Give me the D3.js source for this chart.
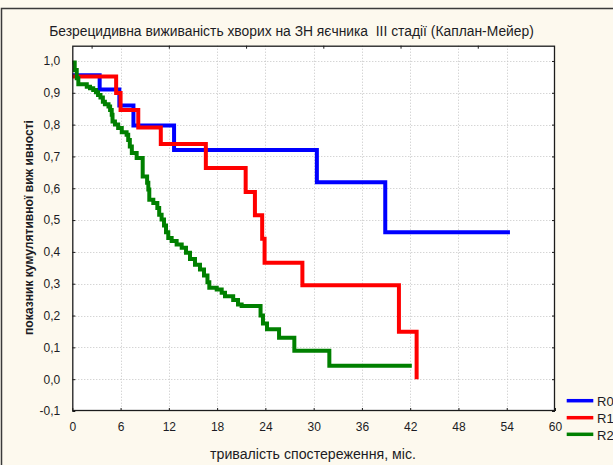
<!DOCTYPE html>
<html>
<head>
<meta charset="utf-8">
<script src="https://cdn.jsdelivr.net/npm/d3@7"></script>
<style>
  html, body { margin: 0; padding: 0; background: #fdf9ee; }
  svg { display: block; }
  text { font-family: "Liberation Sans", Arial, sans-serif; fill: #1c1c24; white-space: pre; }
</style>
</head>
<body>
<svg id="chart" width="613" height="465"></svg>
<script>
// Kaplan–Meier step data: months and cumulative survival after each event
const r0Times = [0, 3.4, 5.85, 7.6, 12.65, 30.4, 38.9, 54.4];
const r0Surv  = [0.955, 0.91, 0.86, 0.797, 0.72, 0.619, 0.462, 0.462];

const r1Times = [0, 5.45, 6.0, 8.2, 11.0, 16.6, 21.55, 22.7, 23.6, 23.9, 28.6, 40.6, 42.8];
const r1Surv  = [0.951, 0.899, 0.846, 0.791, 0.739, 0.664, 0.588, 0.515, 0.441, 0.366, 0.295, 0.149, 0.0];

const r2Times = [0, 0.3, 0.55, 0.75, 1.8, 2.2, 2.6, 2.95, 3.2, 3.5, 3.8, 4.05, 4.5, 4.7, 4.9, 5.0,
                 5.3, 5.7, 6.15, 6.75, 6.95, 7.15, 7.4, 8.0, 8.75, 9.3, 9.45, 9.57, 10.07, 10.57,
                 10.8, 11.1, 11.4, 11.65, 11.93, 12.35, 12.97, 13.6, 14.13, 14.63, 15.25, 15.87,
                 16.37, 16.8, 17.03, 17.95, 18.57, 18.98, 20.0, 20.6, 21.05, 23.4, 23.7, 24.2,
                 25.7, 27.6, 31.95, 42.2];
const r2Surv  = [0.995, 0.972, 0.946, 0.927, 0.919, 0.914, 0.909, 0.902, 0.893, 0.885, 0.872, 0.864,
                 0.857, 0.846, 0.831, 0.81, 0.80, 0.789, 0.776, 0.768, 0.752, 0.731, 0.711, 0.695,
                 0.637, 0.617, 0.596, 0.564, 0.554, 0.538, 0.517, 0.502, 0.483, 0.462, 0.444,
                 0.434, 0.423, 0.413, 0.397, 0.378, 0.36, 0.345, 0.326, 0.305, 0.287, 0.282,
                 0.272, 0.261, 0.249, 0.235, 0.23, 0.2, 0.175, 0.157, 0.13, 0.089, 0.042, 0.042];

const seriesNames  = ["R0", "R1", "R2"];
const seriesColors = ["#0000ff", "#ff0000", "#008000"];

const xTicks = [0, 6, 12, 18, 24, 30, 36, 42, 48, 54, 60];
const yTicks = [-0.1, 0, 0.1, 0.2, 0.3, 0.4, 0.5, 0.6, 0.7, 0.8, 0.9, 1.0];
const topTicks = [2.4, 12, 21.6, 31.2, 40.8, 50.4];

const titleText  = "Безрецидивна виживаність хворих на ЗН яєчника  III стадії (Каплан-Мейер)";
const xTitleText = "тривалість спостереження, міс.";
const yTitleText = "показник кумулятивної виж ивності";

const svg = d3.select("#chart");
const W = 613, H = 465;
const plot = { left: 72.3, right: 555, top: 45.7, bottom: 411 };

const x = d3.scaleLinear().domain([0, 60]).range([plot.left, plot.right]);
const y = d3.scaleLinear().domain([-0.1, 1.048]).range([plot.bottom, plot.top]);

const fmt = d => d3.format(".1f")(d).replace(".", ",").replace("−", "-");

// page background and window frame
svg.append("rect").attr("width", W).attr("height", H).attr("fill", "#fdf9ee");
svg.append("path")
  .attr("d", `M1.5,${H} L1.5,8.5 L${W},8.5`)
  .attr("fill", "none").attr("stroke", "#3a3a3a").attr("stroke-width", 1.5);

// plot area
svg.append("rect")
  .attr("x", plot.left).attr("y", plot.top)
  .attr("width", plot.right - plot.left).attr("height", plot.bottom - plot.top)
  .attr("fill", "#ffffff");

// dotted grid
const grid = svg.append("g").attr("stroke", "#c4c4c4").attr("stroke-width", 1)
  .attr("stroke-dasharray", "1,2");
grid.selectAll("line.h").data(yTicks.filter(d => d > -0.1)).enter().append("line")
  .attr("x1", plot.left).attr("x2", plot.right)
  .attr("y1", d => Math.round(y(d)) + 0.5).attr("y2", d => Math.round(y(d)) + 0.5);
grid.selectAll("line.v").data(xTicks.filter(d => d > 0 && d < 60)).enter().append("line")
  .attr("y1", plot.top).attr("y2", plot.bottom)
  .attr("x1", d => Math.round(x(d)) + 0.5).attr("x2", d => Math.round(x(d)) + 0.5);

// axes with inward ticks
const axisStyle = g => {
  g.select(".domain").remove();
  g.selectAll(".tick line").attr("stroke", "#1c1c1c");
  g.selectAll(".tick text").style("font-size", "12px")
    .style("font-family", "'Liberation Sans', Arial, sans-serif").attr("fill", "#1c1c24");
};

svg.append("g").attr("transform", `translate(0,${plot.bottom})`)
  .call(d3.axisBottom(x).tickValues(xTicks).tickSize(-3).tickPadding(11).tickFormat(d3.format("d")))
  .call(axisStyle);

svg.append("g").attr("transform", `translate(${plot.left},0)`)
  .call(d3.axisLeft(y).tickValues(yTicks).tickSize(-3).tickPadding(12).tickFormat(fmt))
  .call(axisStyle);

svg.append("g").attr("transform", `translate(${plot.right},0)`)
  .call(d3.axisRight(y).tickValues(yTicks).tickSize(-3).tickFormat(""))
  .call(axisStyle);

svg.append("g").attr("transform", `translate(0,${plot.top})`)
  .call(d3.axisTop(x).tickValues(topTicks).tickSize(-3).tickFormat(""))
  .call(axisStyle);

// survival curves
const line = d3.line().x(d => x(d[0])).y(d => y(d[1])).curve(d3.curveStepAfter);
const series = [
  d3.zip(r0Times, r0Surv),
  d3.zip(r1Times, r1Surv),
  d3.zip(r2Times, r2Surv)
];
svg.append("g").selectAll("path").data(series).enter().append("path")
  .attr("d", line)
  .attr("fill", "none")
  .attr("stroke", (d, i) => seriesColors[i])
  .attr("stroke-width", 4)
  .attr("stroke-linejoin", "miter")
  .attr("stroke-linecap", "butt");

// plot frame
svg.append("rect")
  .attr("x", plot.left + 0.5).attr("y", plot.top + 0.5)
  .attr("width", plot.right - plot.left - 1).attr("height", plot.bottom - plot.top - 1)
  .attr("fill", "none").attr("stroke", "#1c1c1c").attr("stroke-width", 1.3);

// text helpers: scale font to a measured width
function fitText(sel, width) {
  const n = sel.node();
  const fs = parseFloat(sel.style("font-size"));
  const w = n.getComputedTextLength();
  sel.style("font-size", (fs * width / w).toFixed(2) + "px");
}

const title = svg.append("text")
  .attr("x", 291.5).attr("y", 31).attr("text-anchor", "middle")
  .attr("dominant-baseline", "central")
  .attr("xml:space", "preserve")
  .style("font-size", "12px").text(titleText);
fitText(title, 485);

const xTitle = svg.append("text")
  .attr("x", 313).attr("y", 454).attr("text-anchor", "middle")
  .attr("dominant-baseline", "central")
  .style("font-size", "12px").text(xTitleText);
fitText(xTitle, 206);

const yTitle = svg.append("text")
  .attr("transform", "translate(29,227.5) rotate(-90)")
  .attr("text-anchor", "middle").attr("dominant-baseline", "central")
  .style("font-size", "10px").style("font-weight", "bold").text(yTitleText);
fitText(yTitle, 215);

// legend
const legend = svg.append("g");
const legendY = [400.7, 417.7, 434.3];
seriesNames.forEach((name, i) => {
  legend.append("line")
    .attr("x1", 566.7).attr("x2", 593.3)
    .attr("y1", legendY[i]).attr("y2", legendY[i])
    .attr("stroke", seriesColors[i]).attr("stroke-width", 3.5);
  legend.append("text")
    .attr("x", 597).attr("y", legendY[i] + 1)
    .attr("dominant-baseline", "central")
    .style("font-size", "13px").text(name);
});
</script>
</body>
</html>
